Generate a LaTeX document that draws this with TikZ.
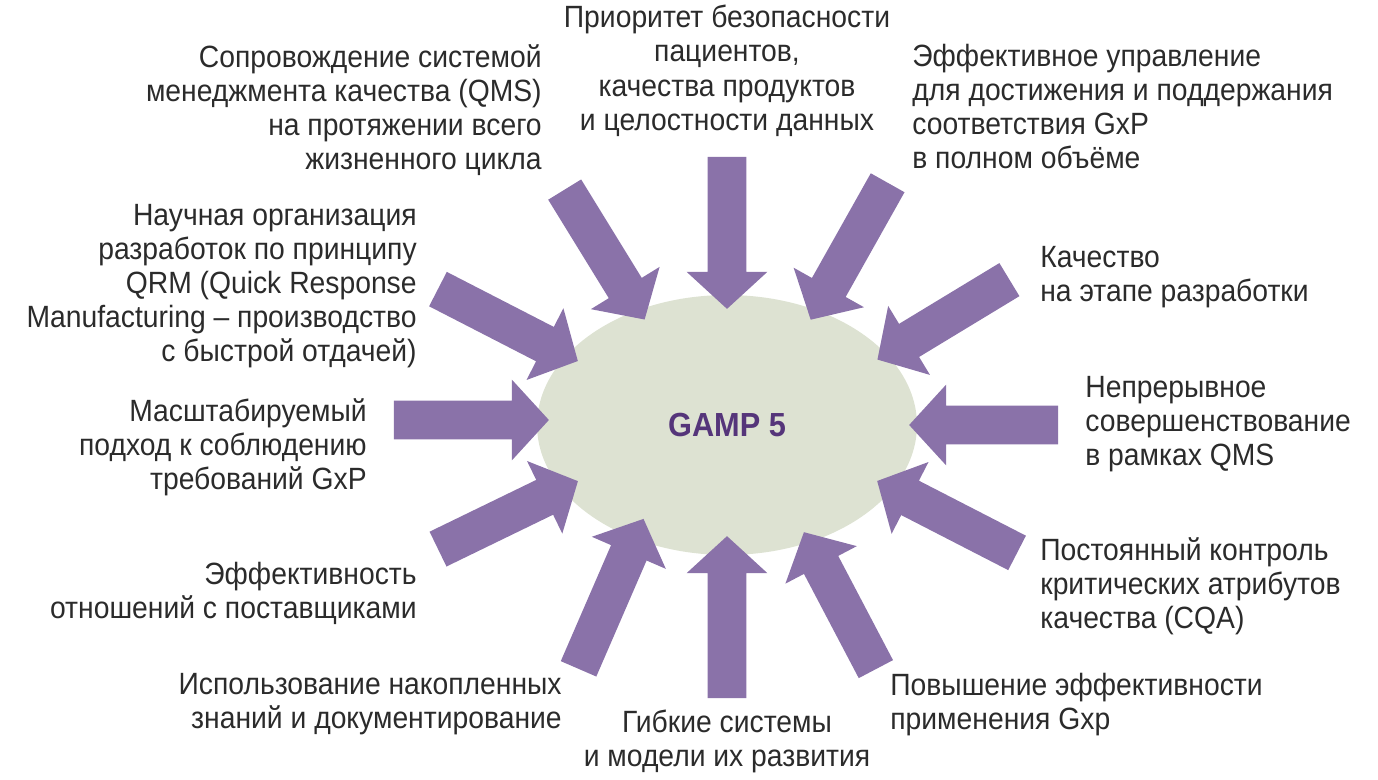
\documentclass[tikz,border=0pt]{standalone}
\usepackage{fontspec}
\setmainfont{Liberation Sans}[FakeStretch=0.92]
\usetikzlibrary{shapes.arrows,shapes.geometric,calc}
\definecolor{arr}{HTML}{8A72A9}
\definecolor{ell}{HTML}{DDE2D2}
\definecolor{gtxt}{HTML}{55357A}
\definecolor{txt}{HTML}{2B2B2B}
\tikzset{
 bigarr/.style={single arrow, fill=arr, draw=none, inner sep=0.38cm, single arrow head extend=0.42cm, single arrow tip angle=95},
 lbl/.style={inner sep=0pt, text=txt, font=\fontsize{17.5}{19.4}\selectfont},
 lr/.style={lbl, align=right, anchor=north east},
 ll/.style={lbl, align=left, anchor=north west},
 lc/.style={lbl, align=center, anchor=north}
}
\newcommand{\barrow}[3]{%
 \path let \p1=($(#3)-(#2)$), \n1={veclen(\x1,\y1)}, \n2={atan2(\y1,\x1)} in
  node[bigarr, minimum height=\n1, rotate=\n2] (#1) at ($(#2)!0.5!(#3)$) {};}
\begin{document}
\begin{tikzpicture}[x=0.02cm,y=-0.02cm]
\useasboundingbox (0,0) rectangle (1378,780);
\node[ellipse, fill=ell, inner sep=0pt, outer sep=0pt, minimum width=7.6cm, minimum height=5.2cm] (g) at (727,425) {};
\node[text=gtxt, font=\bfseries\fontsize{19}{22}\selectfont] (gt) at (727,425) {GAMP 5};
\coordinate (t1) at (727,148); \coordinate (h1) at (727,300);
\coordinate (t2) at (560,182); \coordinate (h2) at (640,312);
\coordinate (t3) at (892,175); \coordinate (h3) at (815,312);
\coordinate (t4) at (1017,275); \coordinate (h4) at (885,355);
\coordinate (t5) at (1067,425); \coordinate (h5) at (918,425);
\coordinate (t6) at (1025,557); \coordinate (h6) at (885,485);
\coordinate (t7) at (880,677); \coordinate (h7) at (808,540);
\coordinate (t8) at (727,707); \coordinate (h8) at (727,545);
\coordinate (t9) at (575,677); \coordinate (h9) at (640,527);
\coordinate (t10) at (430,553); \coordinate (h10) at (570,485);
\coordinate (t11) at (385,420); \coordinate (h11) at (540,420);
\coordinate (t12) at (430,285); \coordinate (h12) at (570,357);
\foreach \i in {1,...,12}{\barrow{a\i}{t\i}{h\i}}
\node[lc] (l1) at (727,5) {Приоритет безопасности\\пациентов,\\качества продуктов\\и целостности данных};
\node[lr] (l2) at (542,44) {Сопровождение системой\\менеджмента качества (QMS)\\на протяжении всего\\жизненного цикла};
\node[ll] (l3) at (912,44) {Эффективное управление\\для достижения и поддержания\\соответствия GxP\\в полном объёме};
\node[lr] (l4) at (417,204) {Научная организация\\разработок по принципу\\QRM (Quick Response\\Manufacturing – производство\\с быстрой отдачей)};
\node[ll] (l5) at (1040,246) {Качество\\на этапе разработки};
\node[lr] (l6) at (367,398) {Масштабируемый\\подход к соблюдению\\требований GxP};
\node[ll] (l7) at (1085,376) {Непрерывное\\совершенствование\\в рамках QMS};
\node[lr] (l8) at (417,562) {Эффективность\\отношений с поставщиками};
\node[ll] (l9) at (1040,537) {Постоянный контроль\\критических атрибутов\\качества (CQA)};
\node[lr] (l10) at (562,673) {Использование накопленных\\знаний и документирование};
\node[lc] (l11) at (727,710) {Гибкие системы\\и модели их развития};
\node[ll] (l12) at (890,673) {Повышение эффективности\\применения Gxp};
\end{tikzpicture}
\end{document}
